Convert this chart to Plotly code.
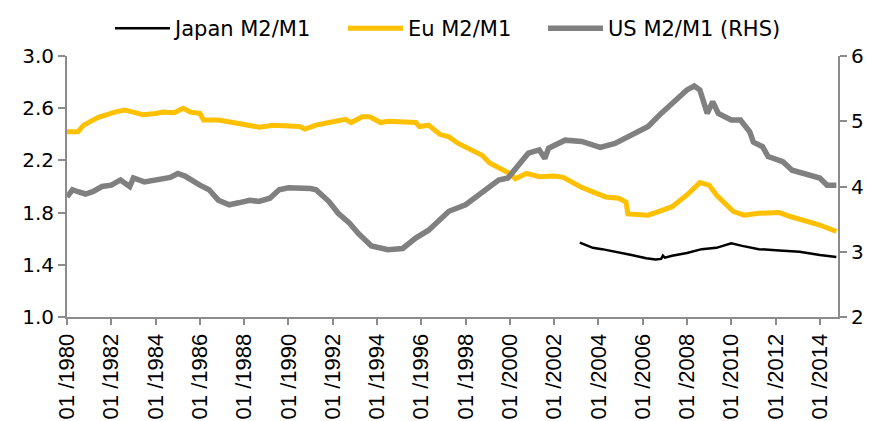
import plotly.graph_objects as go

# ---------------- data ----------------
eu_dates = ["1980-01", "1980-07", "1980-10", "1981-06", "1982-03", "1982-08", "1983-01", "1983-06",
            "1984-01", "1984-05", "1984-11", "1985-04", "1985-08", "1986-01", "1986-03", "1986-11",
            "1987-07", "1988-04", "1988-09", "1989-05", "1990-01", "1990-07", "1990-10", "1991-04",
            "1991-11", "1992-03", "1992-08", "1992-11", "1993-05", "1993-09", "1994-03", "1994-07",
            "1995-05", "1995-10", "1995-12", "1996-05", "1996-11", "1997-04", "1997-09", "1998-04",
            "1998-10", "1999-02", "1999-07", "2000-01", "2000-04", "2000-10", "2001-05", "2002-01",
            "2002-06", "2002-11", "2003-03", "2003-08", "2004-03", "2004-05", "2004-12", "2005-04",
            "2005-05", "2006-04", "2006-10", "2007-05", "2008-01", "2008-08", "2009-01", "2009-05",
            "2010-02", "2010-08", "2011-04", "2012-03", "2012-09", "2013-03", "2014-01", "2014-10"]
eu_values = [2.42, 2.42, 2.47, 2.53, 2.57, 2.585, 2.57, 2.55,
             2.56, 2.57, 2.565, 2.60, 2.57, 2.56, 2.51, 2.51,
             2.49, 2.47, 2.455, 2.47, 2.46, 2.46, 2.44, 2.47,
             2.49, 2.50, 2.515, 2.49, 2.535, 2.535, 2.49, 2.50,
             2.49, 2.49, 2.46, 2.47, 2.40, 2.38, 2.33, 2.28,
             2.24, 2.18, 2.14, 2.10, 2.06, 2.10, 2.075, 2.08,
             2.07, 2.025, 2.00, 1.97, 1.93, 1.92, 1.91, 1.88,
             1.79, 1.78, 1.81, 1.845, 1.935, 2.03, 2.01, 1.935,
             1.81, 1.78, 1.795, 1.80, 1.77, 1.745, 1.705, 1.655]

us_dates = ["1980-01", "1980-04", "1980-07", "1980-11", "1981-03", "1981-08", "1982-01", "1982-06",
            "1982-11", "1983-01", "1983-07", "1984-03", "1984-09", "1985-01", "1985-05", "1986-01",
            "1986-06", "1986-11", "1987-05", "1987-10", "1988-04", "1988-09", "1989-03", "1989-08",
            "1990-01", "1991-01", "1991-04", "1991-11", "1992-04", "1992-10", "1993-03", "1993-10",
            "1994-07", "1995-03", "1995-10", "1996-05", "1996-11", "1997-04", "1998-01", "1998-10",
            "1999-07", "1999-12", "2000-06", "2000-11", "2001-05", "2001-08", "2001-10", "2002-07",
            "2003-04", "2004-02", "2004-10", "2005-05", "2005-11", "2006-04", "2006-11", "2007-06",
            "2008-01", "2008-05", "2008-08", "2008-12", "2009-03", "2009-06", "2010-01", "2010-06",
            "2010-11", "2011-01", "2011-06", "2011-09", "2012-05", "2012-10", "2013-07", "2014-01",
            "2014-05", "2014-10"]
us_values = [3.84, 3.95, 3.92, 3.885, 3.92, 4.00, 4.02, 4.10,
             4.00, 4.13, 4.07, 4.10, 4.14, 4.20, 4.16, 4.02,
             3.95, 3.79, 3.72, 3.75, 3.79, 3.77, 3.82, 3.95,
             3.98, 3.97, 3.95, 3.77, 3.59, 3.44, 3.28, 3.09,
             3.03, 3.05, 3.21, 3.33, 3.50, 3.62, 3.72, 3.92,
             4.10, 4.13, 4.33, 4.51, 4.56, 4.43, 4.585, 4.71,
             4.69, 4.60, 4.66, 4.76, 4.84, 4.92, 5.12, 5.30,
             5.48, 5.54, 5.48, 5.12, 5.30, 5.12, 5.02, 5.02,
             4.84, 4.68, 4.61, 4.46, 4.38, 4.25, 4.18, 4.13,
             4.02, 4.02]

jp_dates = ["2003-03", "2003-10", "2004-03", "2004-11", "2005-07", "2006-03", "2006-08", "2006-11",
            "2006-12", "2007-01", "2007-05", "2008-01", "2008-09", "2009-05", "2010-01", "2010-07",
            "2011-04", "2012-03", "2013-02", "2014-01", "2014-10"]
jp_values = [1.57, 1.53, 1.52, 1.50, 1.475, 1.45, 1.44, 1.445,
             1.47, 1.455, 1.47, 1.49, 1.52, 1.53, 1.565, 1.545,
             1.52, 1.51, 1.50, 1.475, 1.46]

tick_years = list(range(1980, 2015, 2))
tick_vals = [f"{y}-01-01" for y in tick_years]
tick_text = [f"01 /{y}" for y in tick_years]
left_ticks = [1.0, 1.4, 1.8, 2.2, 2.6, 3.0]
right_ticks = [2, 3, 4, 5, 6]

# ---------------- figure ----------------
# the page body has an 8px margin, so the figure is 8px smaller than the window
W, H = 865, 413
AX = "#8c8c8c"
fig = go.Figure()
fig.add_trace(go.Scatter(x=jp_dates, y=jp_values, name="Japan M2/M1", mode="lines",
                         line=dict(color="#000000", width=2.5), legend="legend"))
fig.add_trace(go.Scatter(x=eu_dates, y=eu_values, name="Eu M2/M1", mode="lines",
                         line=dict(color="#FFC000", width=5), legend="legend2"))
fig.add_trace(go.Scatter(x=us_dates, y=us_values, name="US M2/M1 (RHS)", mode="lines",
                         line=dict(color="#808080", width=5.5), yaxis="y2", legend="legend3"))

def leg(xpx):
    return dict(orientation="h", x=xpx / W, xanchor="left", xref="container",
                y=1.0, yanchor="top", yref="container", itemwidth=55,
                font=dict(family="DejaVu Sans", size=21), bgcolor="rgba(0,0,0,0)")

fig.update_layout(
    width=W, height=H,
    margin=dict(l=59, r=35, t=48, b=104, autoexpand=False),
    paper_bgcolor="white", plot_bgcolor="white",
    font=dict(family="DejaVu Sans", size=20, color="#000000"),
    showlegend=True,
    legend=leg(102), legend2=leg(335), legend3=leg(535),
    xaxis=dict(type="date", range=["1980-01-01", "2014-10-28"],
               tickmode="array", tickvals=tick_vals, ticktext=tick_text, tickangle=-90,
               tickfont=dict(family="Liberation Sans", size=22),
               showgrid=False, zeroline=False, showline=True, linecolor=AX, linewidth=2,
               ticks="outside", ticklen=6, tickwidth=2, tickcolor=AX, automargin=False),
    yaxis=dict(range=[1.0, 3.0], tickmode="array", tickvals=left_ticks,
               ticktext=[f"{v:.1f}" for v in left_ticks],
               showgrid=False, zeroline=False, showline=True, linecolor=AX, linewidth=2,
               ticks="outside", ticklen=7, tickwidth=2, tickcolor=AX, automargin=False),
    yaxis2=dict(range=[2, 6], overlaying="y", side="right", tickmode="array",
                tickvals=right_ticks, ticktext=[str(v) for v in right_ticks],
                showgrid=False, zeroline=False, showline=True, linecolor=AX, linewidth=2,
                ticks="outside", ticklen=7, tickwidth=2, tickcolor=AX, automargin=False),
)

fig.write_html("out.html")
